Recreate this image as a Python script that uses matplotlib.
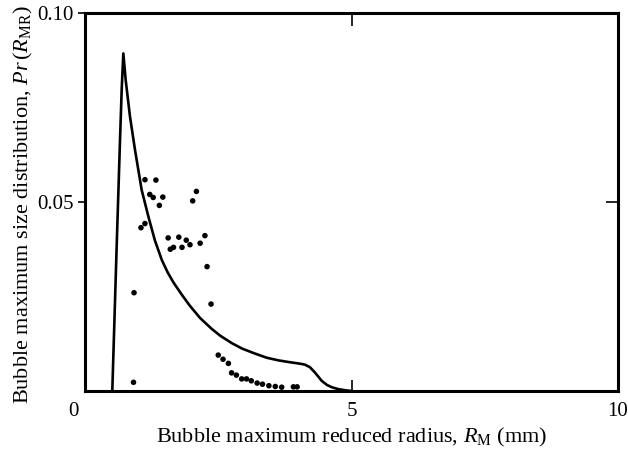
import matplotlib
matplotlib.use("Agg")
import matplotlib.pyplot as plt

plt.rcParams["font.family"] = ["Liberation Serif", "DejaVu Serif"]
plt.rcParams["mathtext.fontset"] = "custom"
plt.rcParams["mathtext.rm"] = "Liberation Serif"
plt.rcParams["mathtext.it"] = "Liberation Serif:italic"

# computed distribution (solid curve)
curve_r = [0.512, 0.594, 0.657, 0.688, 0.719, 0.763, 0.844, 0.938, 1.063, 1.19,
           1.31, 1.44, 1.55, 1.66, 1.81, 1.97, 2.16, 2.38, 2.54, 2.75,
           2.95, 3.19, 3.41, 3.63, 3.85, 4.00, 4.12, 4.22, 4.32, 4.44,
           4.54, 4.63, 4.75, 4.88, 5.0]
curve_p = [0.0, 0.0382, 0.0664, 0.0796, 0.0893, 0.0823, 0.0726, 0.0638, 0.0532, 0.0461,
           0.0399, 0.0347, 0.0314, 0.0287, 0.0256, 0.0225, 0.0193, 0.0164, 0.0146, 0.0127,
           0.0112, 0.0099, 0.0088, 0.0081, 0.0076, 0.0073, 0.0070, 0.0063, 0.0048, 0.0027,
           0.0016, 0.0010, 0.0005, 0.0002, 0.0]

# measured distribution (dots)
meas_r = [0.92, 0.91, 1.05, 1.125, 1.125, 1.215, 1.28, 1.33, 1.395, 1.46,
          1.56, 1.60, 1.66, 1.76, 1.82, 1.90, 1.97, 2.02, 2.09, 2.16,
          2.25, 2.29, 2.365, 2.50, 2.59, 2.69, 2.75, 2.84, 2.94, 3.03,
          3.12, 3.23, 3.33, 3.45, 3.57, 3.69, 3.91, 3.98]
meas_p = [0.0260, 0.0023, 0.0432, 0.0443, 0.0559, 0.0520, 0.0512, 0.0558, 0.0491, 0.0513,
          0.0405, 0.0375, 0.0380, 0.0407, 0.0380, 0.0399, 0.0387, 0.0503, 0.0528, 0.0391,
          0.0411, 0.0329, 0.0230, 0.0095, 0.0084, 0.0073, 0.0048, 0.0042, 0.0032, 0.0032,
          0.0027, 0.0021, 0.0018, 0.0014, 0.0012, 0.0010, 0.0011, 0.0011]

fig = plt.figure(figsize=(6.28, 4.49), dpi=100)
ax = fig.add_axes([85 / 628, 58 / 449, 533 / 628, 378 / 449])

ax.plot(curve_r, curve_p, color="black", lw=1.9, solid_joinstyle="round")
ax.scatter(meas_r, meas_p, s=16, color="black", edgecolors="none", zorder=3)

ax.set_xlim(0, 10)
ax.set_ylim(0, 0.10)
for sp in ax.spines.values():
    sp.set_linewidth(2.2)

ax.set_xticks([5, 10])
ax.set_xticklabels(["5", "10"])
ax.set_yticks([0.05, 0.10])
ax.set_yticklabels(["0.05", "0.10"])
ax.tick_params(axis="x", direction="in", length=8, width=1.2, pad=8, labelsize=15)
ax.tick_params(axis="y", direction="out", length=5, width=1.2, pad=3, labelsize=15)
ax.text(-0.22, -0.0028, "0", ha="center", va="top", fontsize=15)

top = ax.secondary_xaxis("top")
top.set_xticks([5])
top.tick_params(direction="in", length=9, width=1.2, labeltop=False)
right = ax.secondary_yaxis("right")
right.set_yticks([0.05])
right.tick_params(direction="in", length=9, width=1.2, labelright=False)

fig.text(351.5 / 628, 1 - 437 / 449, r"Bubble maximum reduced radius, $R_{\mathrm{M}}$ (mm)",
         fontsize=16, ha="center", va="center")
fig.text(23 / 628, 1 - 205 / 449, r"Bubble maximum size distribution, $Pr\,(R_{\mathrm{MR}})$",
         fontsize=16, ha="center", va="center", rotation=90)

fig.savefig("out.png", dpi=100)
